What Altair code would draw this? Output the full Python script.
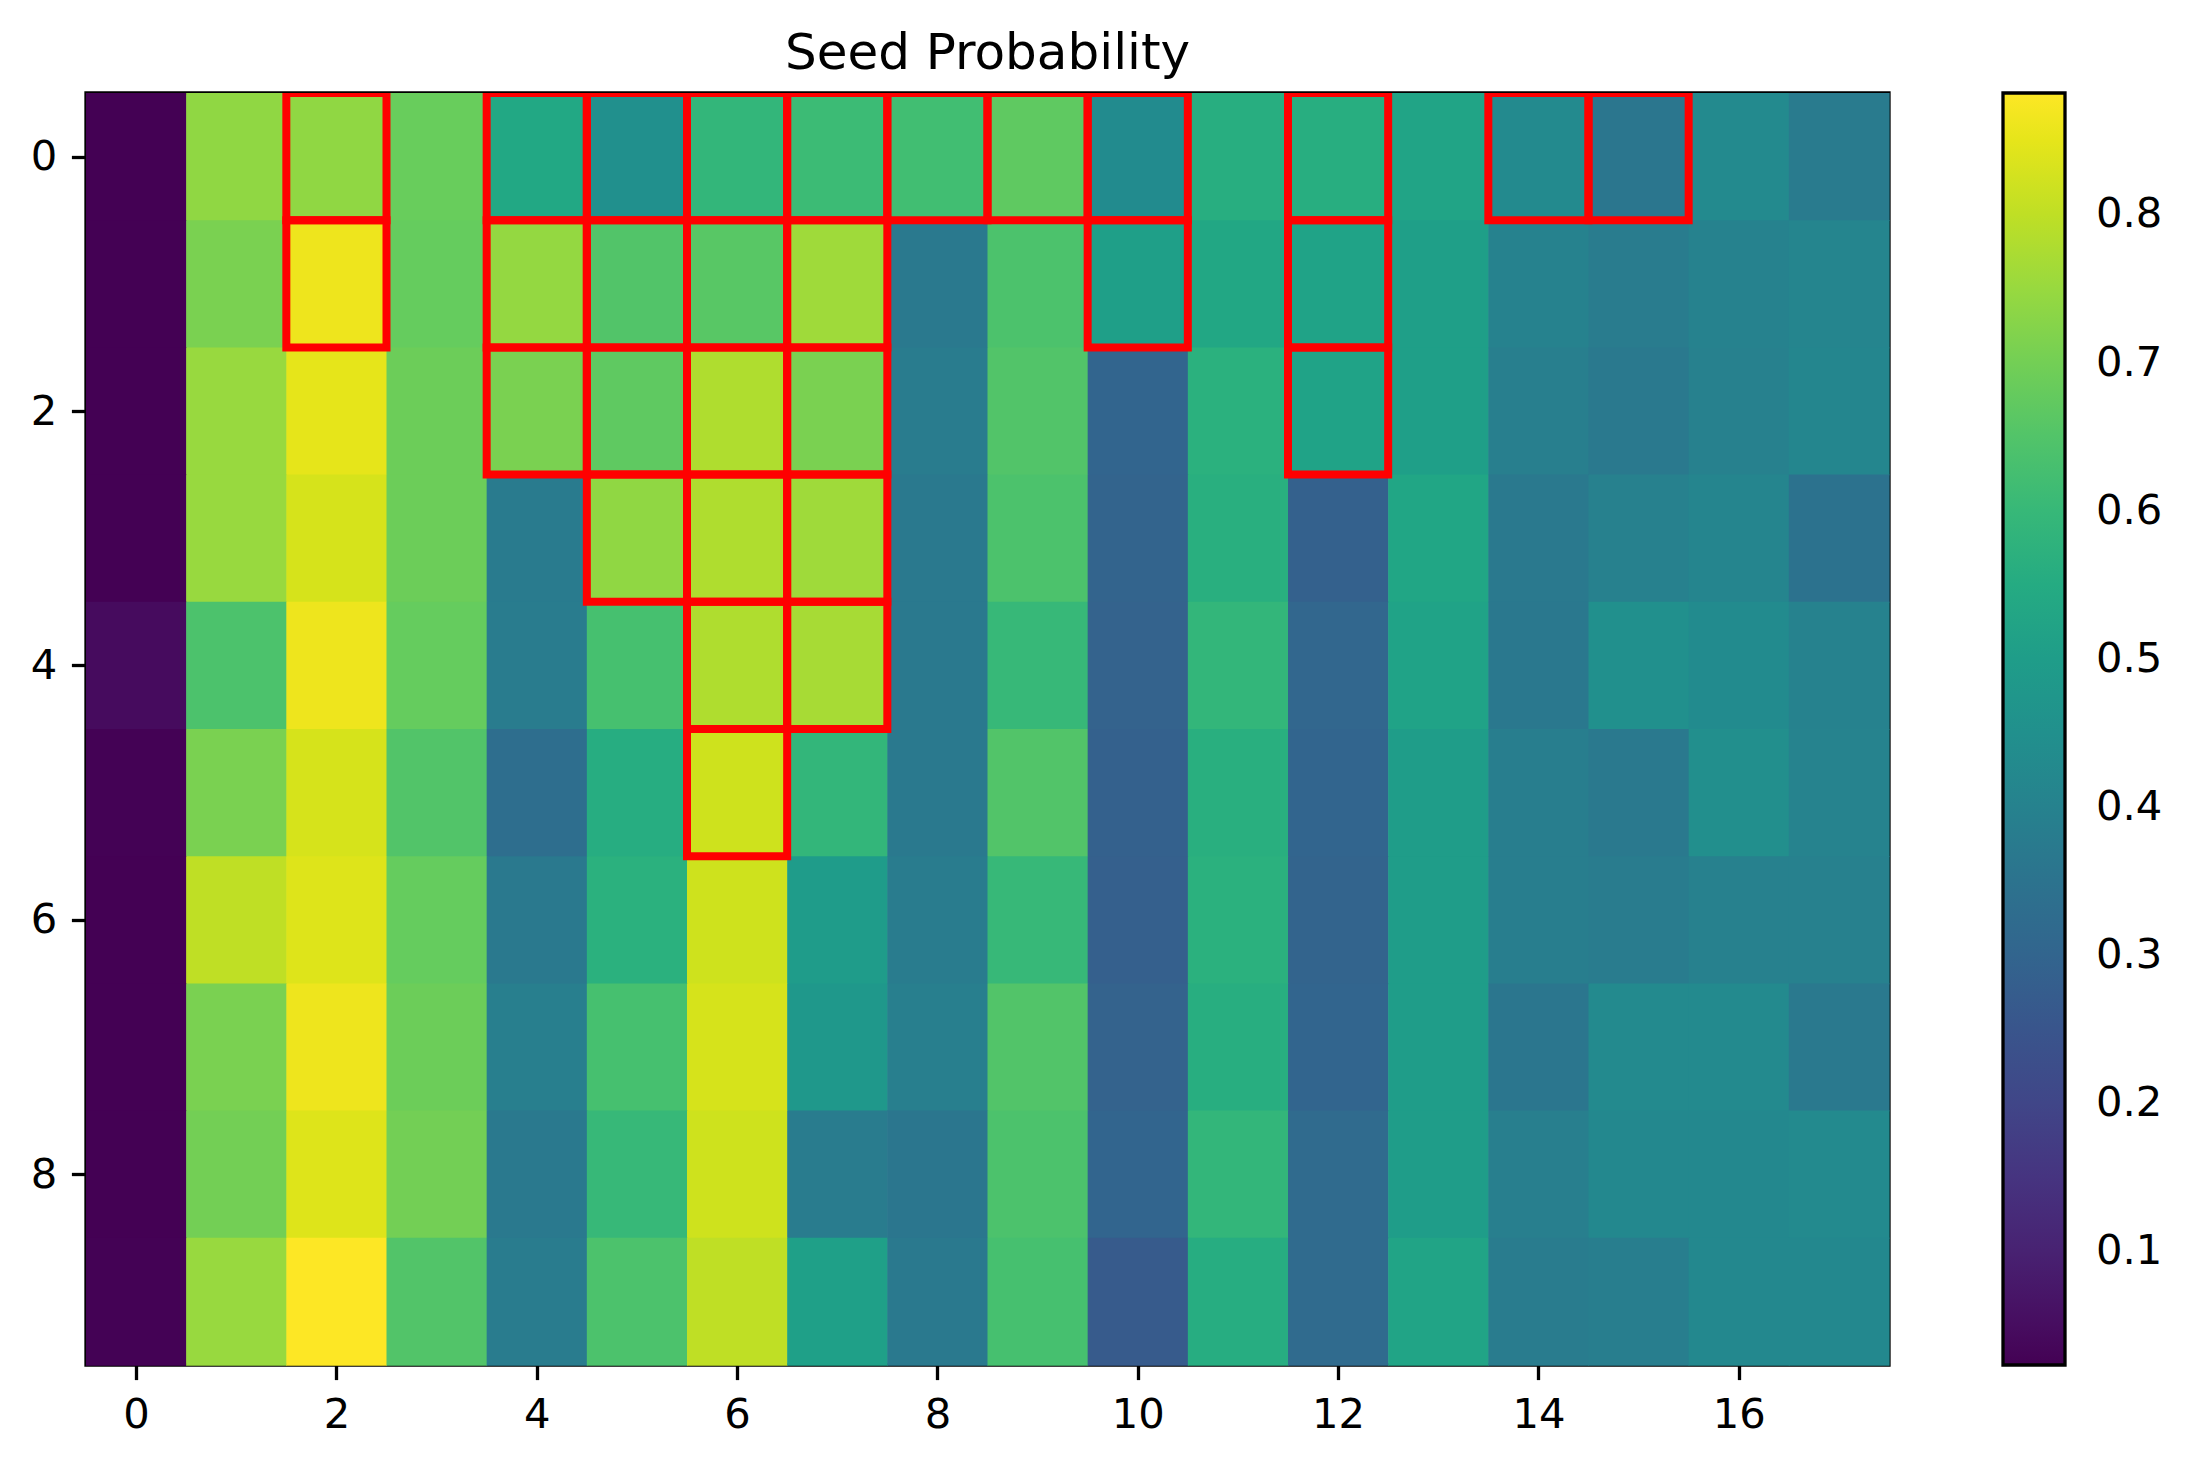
import altair as alt
import pandas as pd

columns = list(range(18))
rows = list(range(10))

row0 = [0.023, 0.74, 0.74, 0.685, 0.54, 0.45, 0.59, 0.61, 0.62, 0.67, 0.435, 0.56, 0.56, 0.525, 0.43, 0.36, 0.43, 0.375]
row1 = [0.023, 0.71, 0.86, 0.68, 0.745, 0.65, 0.66, 0.76, 0.37, 0.64, 0.505, 0.535, 0.52, 0.505, 0.40, 0.38, 0.40, 0.41]
row2 = [0.023, 0.75, 0.85, 0.69, 0.71, 0.67, 0.78, 0.71, 0.38, 0.65, 0.30, 0.57, 0.52, 0.505, 0.39, 0.37, 0.395, 0.415]
row3 = [0.023, 0.75, 0.83, 0.69, 0.375, 0.74, 0.78, 0.76, 0.37, 0.64, 0.295, 0.565, 0.285, 0.53, 0.37, 0.395, 0.41, 0.345]
row4 = [0.045, 0.64, 0.86, 0.68, 0.38, 0.63, 0.78, 0.77, 0.37, 0.60, 0.29, 0.59, 0.305, 0.52, 0.365, 0.45, 0.435, 0.40]
row5 = [0.025, 0.71, 0.83, 0.65, 0.33, 0.555, 0.82, 0.59, 0.37, 0.65, 0.285, 0.565, 0.30, 0.50, 0.385, 0.37, 0.445, 0.405]
row6 = [0.023, 0.80, 0.84, 0.68, 0.37, 0.57, 0.82, 0.495, 0.38, 0.60, 0.28, 0.57, 0.295, 0.50, 0.385, 0.38, 0.395, 0.395]
row7 = [0.023, 0.71, 0.86, 0.69, 0.39, 0.63, 0.83, 0.48, 0.39, 0.65, 0.29, 0.56, 0.30, 0.50, 0.36, 0.43, 0.43, 0.37]
row8 = [0.023, 0.70, 0.84, 0.70, 0.37, 0.60, 0.82, 0.38, 0.36, 0.64, 0.30, 0.59, 0.32, 0.50, 0.39, 0.425, 0.425, 0.43]
row9 = [0.025, 0.75, 0.882, 0.65, 0.38, 0.64, 0.80, 0.51, 0.37, 0.63, 0.265, 0.555, 0.32, 0.525, 0.38, 0.385, 0.425, 0.425]
values = [row0, row1, row2, row3, row4, row5, row6, row7, row8, row9]

# columns outlined in red, per row
highlight_cols = [
    [2, 4, 5, 6, 7, 8, 9, 10, 12, 14, 15],
    [2, 4, 5, 6, 7, 10, 12],
    [4, 5, 6, 7, 12],
    [5, 6, 7],
    [6, 7],
    [6],
    [], [], [], [],
]

x_ticks = [0, 2, 4, 6, 8, 10, 12, 14, 16]
y_ticks = [0, 2, 4, 6, 8]
cbar_ticks = [0.1, 0.2, 0.3, 0.4, 0.5, 0.6, 0.7, 0.8]

records = []
for r, rowvals in zip(rows, values):
    for c, v in zip(columns, rowvals):
        records.append({"row": r, "col": c, "prob": v, "hl": c in highlight_cols[r]})
df = pd.DataFrame(records)

FONT = "DejaVu Sans"

base = alt.Chart(df)

xscale = alt.Scale(domain=[-0.5, 17.5], nice=False, zero=False)
yscale = alt.Scale(domain=[-0.5, 9.5], nice=False, zero=False, reverse=True)
cscale = alt.Scale(scheme="viridis", nice=False, zero=False)

# cells: a hair of overlap to avoid anti-aliasing seams between neighbours
heat = base.transform_calculate(
    x0="datum.col - 0.5", x1="datum.col + 0.506",
    y0="datum.row - 0.5", y1="datum.row + 0.506",
).mark_rect().encode(
    x=alt.X("x0:Q", scale=xscale, axis=alt.Axis(values=x_ticks, format="d", title=None)),
    x2="x1:Q",
    y=alt.Y("y0:Q", scale=yscale, axis=alt.Axis(values=y_ticks, format="d", title=None)),
    y2="y1:Q",
    color=alt.Color(
        "prob:Q", scale=cscale,
        legend=alt.Legend(
            title=None, orient="right", offset=114, direction="vertical", type="gradient",
            gradientLength=1272, gradientThickness=62,
            values=cbar_ticks, format=".1f",
            labelFontSize=41.7, labelFont=FONT, labelColor="black", labelOffset=31,
            gradientStrokeColor="black", gradientStrokeWidth=3.3, padding=0,
        ),
    ),
)

outline = base.transform_filter("datum.hl").transform_calculate(
    x0="datum.col - 0.5", x1="datum.col + 0.5",
    y0="datum.row - 0.5", y1="datum.row + 0.5",
).mark_rect(
    fillOpacity=0, stroke="#ff0000", strokeWidth=8, clip=True
).encode(
    x="x0:Q", x2="x1:Q", y="y0:Q", y2="y1:Q",
)

chart = alt.layer(heat, outline).properties(
    width=1803,
    height=1272,
    title=alt.TitleParams(
        "Seed Probability", fontSize=50, font=FONT, fontWeight="normal",
        color="black", offset=25, dy=51, baseline="alphabetic", anchor="middle",
    ),
    autosize=alt.AutoSizeParams(type="none"),
    padding={"left": 86, "top": 93, "right": 302, "bottom": 101},
).configure_view(
    stroke="black", strokeWidth=3.3
).configure_axis(
    labelFont=FONT, labelFontSize=41.7, labelColor="black",
    tickColor="black", tickWidth=3.3, tickSize=14.6, labelPadding=14.6,
    domain=False, grid=False,
)

chart.save("out.html", embed_options={"renderer": "svg", "actions": False})
